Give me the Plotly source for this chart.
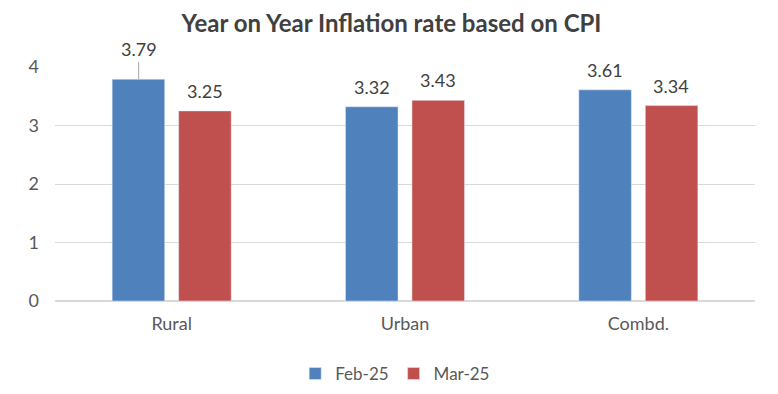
import plotly.graph_objects as go

categories = ["Rural", "Urban", "Combd."]
feb_25 = [3.79, 3.32, 3.61]
mar_25 = [3.25, 3.43, 3.34]
series_names = ["Feb-25", "Mar-25"]
y_ticks = [0, 1, 2, 3, 4]

blue = "#4F81BD"
red = "#C0504D"
txt = "#404040"
font_family = "Lato, 'Open Sans', sans-serif"
lab_size = 18

fig = go.Figure()
fig.add_trace(go.Bar(x=categories, y=feb_25, name=series_names[0], marker_color=blue))
fig.add_trace(go.Bar(x=categories, y=mar_25, name=series_names[1], marker_color=red))

# data labels (first Feb label uses a leader line, as in the original)
for series, shift in ((feb_25, -33), (mar_25, 33)):
    for i, (cat, v) in enumerate(zip(categories, series)):
        leader = (series is feb_25 and i == 0)
        fig.add_annotation(x=cat, y=v, text=f"{v:.2f}", xshift=shift,
                           showarrow=leader, arrowhead=0, arrowwidth=1,
                           arrowcolor="#A6A6A6", ax=0, ay=-30, standoff=0,
                           yanchor="middle", yshift=0 if leader else 20,
                           font=dict(size=lab_size, color=txt, family=font_family))

fig.update_layout(
    width=778, height=394,
    margin=dict(l=47, r=31, t=59, b=101, autoexpand=False),
    paper_bgcolor="white", plot_bgcolor="white",
    title=dict(text="<b>Year on Year Inflation rate based on CPI</b>", x=0.493, xanchor="center",
               y=0.96, yanchor="middle",
               font=dict(size=24, color="#404040", family=font_family)),
    barmode="group", bargap=0.43, bargroupgap=0.21,
    legend=dict(orientation="h", x=0.486, xanchor="center", y=-0.235, yanchor="top",
                font=dict(size=17, color="#595959", family=font_family),
                itemwidth=30, traceorder="normal"),
    showlegend=True,
)
fig.update_xaxes(tickfont=dict(size=lab_size, color="#595959", family=font_family),
                 showline=False, showgrid=False, ticks="", automargin=False,
                 ticklabelstandoff=10)
fig.update_yaxes(range=[0, 4], tickvals=y_ticks, showgrid=True, gridcolor="#D9D9D9",
                 gridwidth=1, zeroline=True, zerolinecolor="#D9D9D9",
                 tickfont=dict(size=lab_size, color="#595959", family=font_family),
                 ticks="", ticklabelstandoff=15, automargin=False)

fig.write_html("out.html")
